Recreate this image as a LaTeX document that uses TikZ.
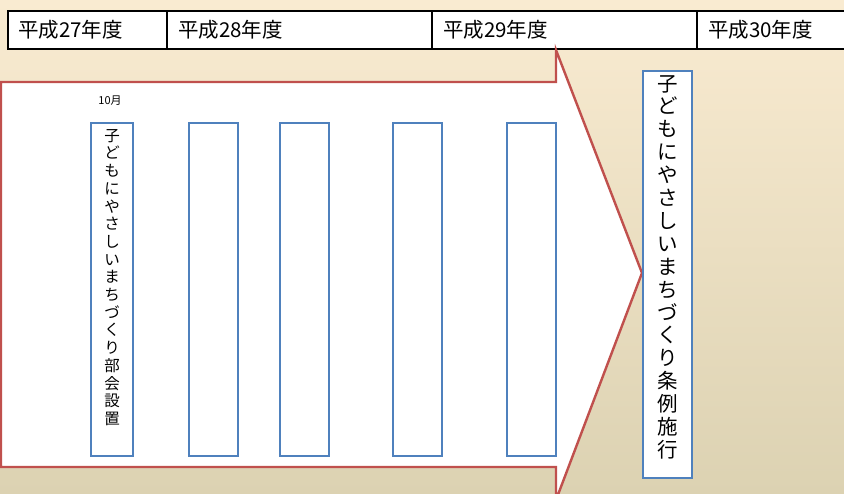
\documentclass[tikz,border=0pt]{standalone}
\usepackage{fontspec}
\newfontfamily\cjk{Noto Sans CJK JP}
\definecolor{bgtop}{HTML}{F9EBD1}
\definecolor{bgbot}{HTML}{DCD2B2}
\definecolor{arrred}{HTML}{C0504D}
\definecolor{boxblue}{HTML}{4F81BD}
\begin{document}
\begin{tikzpicture}[x=1pt,y=-1pt,
  hdr/.style={draw=black,line width=2.4pt,fill=white},
  hdrtxt/.style={anchor=west,font=\cjk\fontsize{20.5}{22}\selectfont,inner sep=0pt},
  col/.style={draw=boxblue,line width=2.4pt,fill=white},
  vtxt/.style={align=center,inner sep=0pt},
  arrowbody/.style={draw=arrred,line width=2.4pt,fill=white,line join=miter}]
\useasboundingbox (0,0) rectangle (844,494);
\shade[top color=bgtop,bottom color=bgbot] (0,0) rectangle (844,494);
\begin{scope}
\clip (0,0) rectangle (844,494);
% header table
\draw[hdr] (8,11) rectangle (860,49);
\draw[line width=2.4pt] (167,11) -- (167,49) (432,11) -- (432,49) (697,11) -- (697,49);
\node[hdrtxt] (h27) at (18,30) {平成27年度};
\node[hdrtxt] (h28) at (178,30) {平成28年度};
\node[hdrtxt] (h29) at (443,30) {平成29年度};
\node[hdrtxt] (h30) at (708,30) {平成30年度};
% big arrow
\draw[arrowbody] (1,82) -- (556,82) -- (556,50) -- (642,273) -- (556,500) -- (556,467) -- (1,467) -- cycle;
\end{scope}
% month label
\node[font=\cjk\fontsize{11}{13}\selectfont,inner sep=0pt] (m10) at (110,101) {10月};
% columns
\draw[col] (91,123) rectangle (133,456);
\draw[col] (189,123) rectangle (238,456);
\draw[col] (280,123) rectangle (329,456);
\draw[col] (393,123) rectangle (442,456);
\draw[col] (507,123) rectangle (556,456);
\node[vtxt,font=\cjk\fontsize{15.5}{17.7}\selectfont,anchor=north] (t1) at (112,129)
 {子\\ど\\も\\に\\や\\さ\\し\\い\\ま\\ち\\づ\\く\\り\\部\\会\\設\\置};
% right box
\draw[col] (643,71) rectangle (692,478);
\node[vtxt,font=\cjk\fontsize{20.5}{22.9}\selectfont,anchor=north] (t2) at (667.5,75)
 {子\\ど\\も\\に\\や\\さ\\し\\い\\ま\\ち\\づ\\く\\り\\条\\例\\施\\行};
\end{tikzpicture}
\end{document}
